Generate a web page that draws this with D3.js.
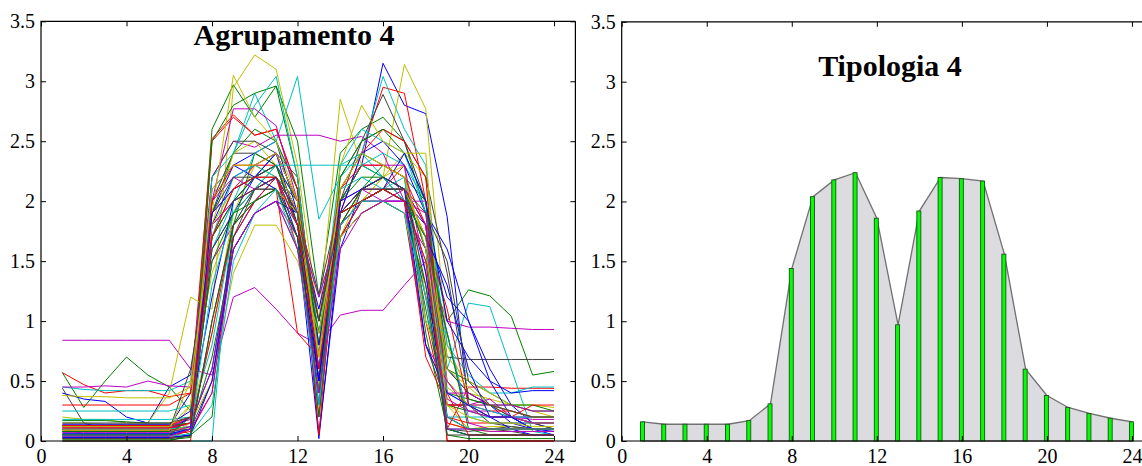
<!DOCTYPE html>
<html>
<head>
<meta charset="utf-8">
<script src="https://cdn.jsdelivr.net/npm/d3@7"></script>
<style>
  body { margin: 0; background: #fff; }
  svg { display: block; }
</style>
</head>
<body>
<svg id="chart" width="1142" height="466"></svg>
<script>
// hours on the x axis
var hours = d3.range(1, 25);
var xTicks = [0, 4, 8, 12, 16, 20, 24];
var yTicks = [0, 0.5, 1, 1.5, 2, 2.5, 3, 3.5];
var serif = "'Liberation Serif', 'Times New Roman', serif";

// Agrupamento 4 : curves grouped by their matlab colour (drawn interleaved)
var blueSeries = [
  [0.40,0.35,0.33,0.20,0.15,0.45,0.55,1.90,2.30,2.40,2.50,1.90,0.30,2.00,2.30,3.15,2.80,2.73,1.87,0.30,0.20,0.20,0.10,0.05],
  [0.12,0.12,0.12,0.12,0.12,0.12,0.40,1.60,1.90,2.20,2.40,2.00,0.05,1.60,2.10,2.20,2.00,1.20,0.60,0.40,0.30,0.15,0.10,0.10],
  [0.10,0.10,0.10,0.10,0.10,0.10,0.15,0.60,1.70,2.00,2.20,1.70,0.02,1.70,2.00,2.00,2.00,1.80,1.20,1.00,0.60,0.30,0.15,0.10],
  [0.08,0.08,0.08,0.08,0.08,0.08,0.20,1.80,2.20,2.30,2.40,1.80,1.10,1.90,2.40,2.50,2.30,1.90,1.60,1.00,0.50,0.40,0.42,0.42],
  [0.05,0.05,0.05,0.05,0.05,0.05,0.10,2.10,2.30,2.20,2.40,2.00,0.80,1.90,2.10,2.20,2.10,1.40,0.10,0.05,0.05,0.05,0.05,0.05],
  [0.14,0.14,0.14,0.14,0.14,0.14,0.25,1.20,2.00,2.20,2.30,1.80,0.60,1.80,2.00,2.10,2.40,2.00,1.00,0.70,0.50,0.20,0.10,0.08],
  [0.03,0.03,0.03,0.03,0.03,0.03,0.05,0.50,1.60,1.90,2.00,1.90,0.50,1.90,2.00,2.10,2.00,1.70,1.30,0.60,0.20,0.10,0.05,0.05],
  [0.06,0.06,0.06,0.06,0.06,0.06,0.10,1.90,2.10,2.20,2.10,1.70,0.50,2.00,2.10,2.20,2.10,0.80,0.40,0.30,0.20,0.20,0.10,0.10]
];
var greenSeries = [
  [0.57,0.28,0.50,0.70,0.55,0.45,0.25,2.60,2.97,2.70,2.96,2.50,1.20,2.40,2.60,2.70,2.50,1.90,1.00,1.26,1.21,1.04,0.55,0.58],
  [0.17,0.17,0.17,0.16,0.15,0.15,0.05,0.20,1.80,2.40,2.30,1.90,0.50,2.00,2.20,2.20,2.00,1.10,0.20,0.10,0.05,0.05,0.05,0.05],
  [0.10,0.10,0.10,0.10,0.10,0.10,0.12,1.90,2.40,2.60,2.50,2.10,0.40,2.10,2.40,2.30,2.20,2.00,0.60,0.50,0.40,0.30,0.30,0.25],
  [0.04,0.04,0.04,0.04,0.04,0.04,0.10,0.70,1.60,1.90,2.00,1.60,0.90,1.70,1.90,2.00,1.90,1.30,0.30,0.25,0.20,0.20,0.15,0.15],
  [0.13,0.13,0.13,0.13,0.13,0.13,0.15,2.50,2.80,2.90,2.96,2.20,0.70,2.20,2.50,2.60,2.40,2.00,0.40,0.35,0.30,0.30,0.25,0.25],
  [0.08,0.08,0.08,0.08,0.08,0.08,0.10,1.70,2.00,2.20,2.30,1.80,0.90,1.80,2.10,2.30,2.20,0.90,0.10,0.05,0.05,0.05,0.05,0.05],
  [0.01,0.01,0.01,0.01,0.01,0.01,0.03,1.00,1.80,2.00,2.10,1.90,0.20,2.00,2.30,2.20,2.10,1.60,0.05,0.02,0.02,0.02,0.02,0.02],
  [0.05,0.05,0.05,0.05,0.05,0.05,0.20,1.50,1.90,2.00,2.10,1.70,0.40,1.90,2.00,2.10,2.00,1.70,0.90,0.10,0.10,0.10,0.10,0.10]
];
var redSeries = [
  [0.57,0.47,0.40,0.42,0.42,0.37,0.40,2.52,2.72,2.55,2.60,2.10,0.40,1.90,2.40,2.95,2.90,2.00,0.10,0.45,0.45,0.44,0.44,0.44],
  [0.30,0.30,0.30,0.30,0.30,0.30,0.40,1.90,2.10,2.30,2.30,1.90,0.90,1.80,2.10,2.20,2.10,1.80,0.00,0.00,0.00,0.00,0.00,0.00],
  [0.05,0.05,0.05,0.05,0.05,0.05,0.08,0.40,1.70,2.00,2.20,1.90,0.20,1.80,2.00,2.10,2.30,1.00,0.20,0.15,0.15,0.15,0.15,0.15],
  [0.00,0.00,0.00,0.00,0.00,0.00,0.00,2.50,2.70,2.55,2.60,2.10,0.05,2.10,2.40,2.60,2.50,2.20,0.00,0.00,0.00,0.00,0.00,0.00],
  [0.13,0.13,0.13,0.13,0.13,0.13,0.20,1.80,2.00,2.10,2.20,1.60,0.70,1.90,2.00,2.10,2.10,1.70,1.10,0.30,0.20,0.20,0.30,0.30],
  [0.09,0.09,0.09,0.09,0.09,0.09,0.12,0.90,1.80,2.00,2.10,0.90,0.70,1.70,2.00,2.10,2.00,0.70,0.30,0.30,0.25,0.25,0.20,0.20],
  [0.02,0.02,0.02,0.02,0.02,0.02,0.10,2.00,2.30,2.30,2.40,2.00,1.00,2.10,2.30,2.30,2.20,1.80,0.40,0.05,0.05,0.05,0.05,0.05],
  [0.11,0.11,0.11,0.11,0.11,0.11,0.15,1.70,2.10,2.20,2.20,1.80,0.60,1.90,2.00,2.10,2.00,1.50,0.15,0.10,0.10,0.10,0.10,0.10]
];
var cyanSeries = [
  [0.45,0.43,0.42,0.42,0.42,0.42,0.50,2.00,2.40,2.90,2.50,3.04,1.85,2.20,2.40,3.04,2.60,2.30,0.60,1.15,1.12,0.60,0.08,0.05],
  [0.00,0.00,0.00,0.00,0.00,0.00,0.00,0.00,2.00,2.40,2.50,2.10,0.80,2.30,2.40,2.20,2.00,1.50,0.10,0.05,0.05,0.05,0.05,0.05],
  [0.25,0.25,0.25,0.25,0.25,0.25,0.30,1.60,2.00,2.20,2.30,2.00,1.00,2.00,2.30,2.40,2.30,2.00,0.80,0.55,0.40,0.40,0.45,0.45],
  [0.18,0.18,0.18,0.18,0.18,0.18,0.20,0.80,1.80,2.10,2.30,2.00,0.90,2.10,2.20,2.10,2.10,1.60,0.20,0.20,0.20,0.20,0.20,0.20],
  [0.02,0.02,0.02,0.02,0.02,0.02,0.05,2.20,2.40,2.80,3.04,2.20,0.60,2.30,2.60,2.50,2.40,1.90,0.10,0.10,0.10,0.10,0.10,0.10],
  [0.10,0.10,0.10,0.10,0.10,0.10,0.12,1.70,2.20,2.30,2.20,1.80,1.20,1.80,2.00,2.10,2.20,1.00,0.90,0.20,0.15,0.15,0.15,0.15],
  [0.06,0.06,0.06,0.06,0.06,0.06,0.10,1.30,1.90,2.10,2.30,2.30,2.30,2.30,2.30,2.20,2.00,1.70,0.40,0.30,0.25,0.20,0.20,0.20],
  [0.04,0.04,0.04,0.04,0.04,0.04,0.06,0.30,1.50,1.90,2.10,1.60,0.30,1.80,2.00,2.00,1.90,1.20,0.20,0.10,0.10,0.10,0.10,0.10]
];
var magentaSeries = [
  [0.84,0.84,0.84,0.84,0.84,0.84,0.60,0.55,1.20,1.28,1.10,0.90,0.80,1.05,1.09,1.09,1.30,1.50,1.00,0.95,0.95,0.94,0.93,0.93],
  [0.45,0.45,0.46,0.45,0.50,0.46,0.45,2.20,2.50,2.45,2.55,2.55,2.55,2.50,2.54,2.40,2.00,2.00,0.50,0.30,0.35,0.20,0.18,0.18],
  [0.13,0.13,0.13,0.13,0.13,0.13,0.18,1.50,1.80,2.00,2.10,1.90,0.60,1.90,2.10,2.10,2.00,1.70,0.30,0.30,0.30,0.25,0.20,0.20],
  [0.02,0.02,0.02,0.02,0.02,0.02,0.05,2.00,2.77,2.77,2.63,2.00,0.50,2.00,2.30,2.30,2.30,1.40,0.35,0.25,0.25,0.20,0.20,0.20],
  [0.10,0.10,0.10,0.10,0.10,0.10,0.15,0.60,1.60,1.90,2.00,1.70,0.50,1.70,1.90,2.00,1.90,1.60,0.90,0.15,0.10,0.10,0.10,0.10],
  [0.11,0.11,0.11,0.11,0.11,0.11,0.20,2.00,2.20,2.10,2.20,1.90,0.70,2.00,2.10,2.00,2.00,1.90,0.40,0.40,0.30,0.30,0.25,0.25],
  [0.07,0.07,0.07,0.07,0.07,0.07,0.12,1.80,2.00,2.10,2.20,1.80,1.20,1.80,2.00,2.00,2.00,0.80,0.50,0.25,0.20,0.20,0.15,0.15],
  [0.04,0.04,0.04,0.04,0.04,0.04,0.10,0.40,1.60,1.90,2.00,1.60,0.40,1.60,1.90,2.00,2.10,1.80,0.10,0.10,0.08,0.08,0.08,0.08]
];
var yellowSeries = [
  [0.20,0.18,0.18,0.15,0.15,0.40,1.20,1.10,2.95,3.22,3.10,2.30,1.00,2.85,2.30,2.20,3.14,2.77,0.80,0.40,0.35,0.30,0.30,0.28],
  [0.38,0.37,0.37,0.36,0.36,0.36,0.45,1.40,1.90,2.30,2.20,1.80,0.60,1.70,2.00,2.20,2.40,2.20,0.45,0.30,0.30,0.25,0.20,0.20],
  [0.05,0.05,0.05,0.05,0.05,0.05,0.30,1.80,2.40,2.50,2.30,1.80,0.60,1.70,2.10,2.20,2.30,1.20,0.30,0.10,0.12,0.12,0.10,0.10],
  [0.15,0.15,0.14,0.14,0.14,0.14,0.20,0.90,1.90,2.10,2.30,1.90,0.80,1.80,2.00,2.20,2.10,1.70,0.70,0.50,0.40,0.30,0.25,0.20],
  [0.10,0.10,0.10,0.10,0.10,0.10,0.10,1.90,3.05,2.70,2.50,2.00,0.40,2.30,2.80,2.50,2.40,2.40,0.15,0.10,0.08,0.08,0.08,0.08],
  [0.06,0.06,0.06,0.06,0.06,0.06,0.15,0.50,1.40,1.80,1.80,1.50,0.90,1.90,2.00,2.00,1.90,1.00,0.50,0.30,0.20,0.20,0.15,0.15],
  [0.09,0.09,0.09,0.09,0.09,0.09,0.50,1.80,2.10,2.20,2.10,1.90,0.70,1.70,1.90,2.00,2.10,1.70,0.60,0.45,0.30,0.25,0.20,0.20],
  [0.12,0.12,0.12,0.12,0.12,0.12,0.30,2.10,2.30,2.30,2.40,2.00,0.70,2.10,2.40,2.30,2.20,1.60,0.30,0.20,0.15,0.15,0.12,0.12]
];
var graySeries = [
  [0.44,0.15,0.10,0.10,0.10,0.10,0.20,2.00,2.40,2.40,2.30,1.90,1.22,2.00,2.50,2.89,2.50,2.00,0.70,0.68,0.68,0.68,0.68,0.68],
  [0.08,0.08,0.08,0.08,0.08,0.09,0.60,1.70,2.10,2.20,2.20,2.00,0.80,1.90,2.10,2.10,2.00,1.20,0.10,0.08,0.10,0.12,0.10,0.10],
  [0.12,0.12,0.12,0.12,0.12,0.12,0.15,2.20,2.50,2.50,2.40,2.20,0.70,2.20,2.50,2.60,2.50,2.20,1.40,0.35,0.30,0.20,0.15,0.15],
  [0.10,0.06,0.06,0.06,0.06,0.06,0.10,0.50,1.70,2.10,2.20,1.80,0.40,1.80,2.10,2.10,2.10,1.60,0.60,0.40,0.30,0.20,0.15,0.10],
  [0.03,0.03,0.03,0.03,0.03,0.03,0.05,1.60,1.90,2.10,2.10,1.70,0.90,1.70,1.90,2.00,1.90,0.80,0.30,0.30,0.15,0.12,0.10,0.10],
  [0.00,0.00,0.00,0.00,0.00,0.00,0.05,1.90,2.20,2.20,2.30,2.00,0.50,1.80,2.00,2.10,2.10,1.80,0.20,0.10,0.10,0.08,0.05,0.05],
  [0.15,0.15,0.15,0.15,0.15,0.15,0.20,1.70,2.00,2.10,2.10,1.80,1.00,1.90,2.00,2.10,2.10,1.90,1.50,0.50,0.30,0.25,0.20,0.20],
  [0.02,0.02,0.02,0.02,0.02,0.02,0.04,1.00,1.80,2.10,2.20,1.90,1.00,1.90,2.10,2.20,2.10,1.30,0.05,0.05,0.05,0.05,0.05,0.05]
];
var lineColors = ["#0000ff", "#008000", "#ff0000", "#00bfbf", "#bf00bf", "#bfbf00", "#404040"];

// Tipologia 4 : the typical profile
var tipologia = [0.16,0.14,0.14,0.14,0.14,0.17,0.31,1.44,2.04,2.18,2.24,1.86,0.97,1.92,2.20,2.19,2.17,1.56,0.60,0.38,0.28,0.23,0.19,0.16];

var svg = d3.select("#chart");
var byColor = [blueSeries, greenSeries, redSeries, cyanSeries, magentaSeries, yellowSeries, graySeries];

function styleAxis(a) {
  a.select(".domain").remove();
  a.attr("font-family", serif).attr("font-size", 20);
  a.selectAll(".tick line").attr("stroke", "#000");
  a.selectAll(".tick text").attr("fill", "#000").style("font-family", serif).style("font-size", "20px");
}

function drawAxes(g, x, y, right, showRight) {
  var top = y.range()[1], bottom = y.range()[0];
  g.append("g")
      .attr("transform", "translate(0," + bottom + ")")
      .call(d3.axisBottom(x).tickValues(xTicks).tickSizeInner(-5).tickSizeOuter(0).tickPadding(8).tickFormat(d3.format("d")))
      .call(styleAxis);
  g.append("g")
      .attr("transform", "translate(0," + top + ")")
      .call(d3.axisTop(x).tickValues(xTicks).tickSizeInner(-5).tickSizeOuter(0).tickFormat(""))
      .call(styleAxis);
  g.append("g")
      .attr("transform", "translate(" + x(0) + ",0)")
      .call(d3.axisLeft(y).tickValues(yTicks).tickSizeInner(-5).tickSizeOuter(0).tickPadding(6).tickFormat(d3.format("")))
      .call(styleAxis);
  if (showRight) {
    g.append("g")
        .attr("transform", "translate(" + right + ",0)")
        .call(d3.axisRight(y).tickValues(yTicks).tickSizeInner(-5).tickSizeOuter(0).tickFormat(""))
        .call(styleAxis);
  }
  // box
  g.append("path")
      .attr("fill", "none")
      .attr("stroke", "#000")
      .attr("stroke-width", 1.2)
      .attr("d", "M" + right + "," + top + "H" + x(0) + "V" + bottom + "H" + right + (showRight ? "V" + top : ""));
}

// ---- left panel
var xL = d3.scaleLinear().domain([0, 25]).range([41, 575.4]);
var yL = d3.scaleLinear().domain([0, 3.5]).range([441, 21.3]);
var gL = svg.append("g");

var lineL = d3.line()
    .x(function(d, i) { return xL(hours[i]); })
    .y(function(d) { return yL(d); });

for (var k = 0; k < blueSeries.length; k++) {
  for (var c = 0; c < byColor.length; c++) {
    gL.append("path")
        .attr("d", lineL(byColor[c][k]))
        .attr("fill", "none")
        .attr("stroke", lineColors[c])
        .attr("stroke-width", 1)
        .attr("stroke-linejoin", "round");
  }
}
drawAxes(gL, xL, yL, 575.4, true);

gL.append("text")
    .attr("x", 294)
    .attr("y", 45)
    .attr("text-anchor", "middle")
    .style("font-family", serif)
    .attr("font-size", 30)
    .attr("font-weight", "bold")
    .text("Agrupamento 4");

// ---- right panel
var xR = d3.scaleLinear().domain([0, 25]).range([621.7, 1153.2]);
var yR = d3.scaleLinear().domain([0, 3.5]).range([441, 21.8]);
var gR = svg.append("g");

var area = d3.area()
    .x(function(d, i) { return xR(hours[i]); })
    .y0(yR(0))
    .y1(function(d) { return yR(d); });

gR.append("path")
    .attr("d", area(tipologia))
    .attr("fill", "#dcdbdf")
    .attr("stroke", "#707070")
    .attr("stroke-width", 1.3);

gR.selectAll("rect.bar")
    .data(tipologia)
  .enter().append("rect")
    .attr("class", "bar")
    .attr("x", function(d, i) { return xR(hours[i]) - 2.5; })
    .attr("y", function(d) { return yR(d); })
    .attr("width", 4)
    .attr("height", function(d) { return yR(0) - yR(d); })
    .attr("fill", "#00ff00")
    .attr("stroke", "#1f4f1f")
    .attr("stroke-width", 0.9);

drawAxes(gR, xR, yR, 1142, false);

gR.append("text")
    .attr("x", 890)
    .attr("y", 76)
    .attr("text-anchor", "middle")
    .style("font-family", serif)
    .attr("font-size", 30)
    .attr("font-weight", "bold")
    .text("Tipologia 4");
</script>
</body>
</html>
